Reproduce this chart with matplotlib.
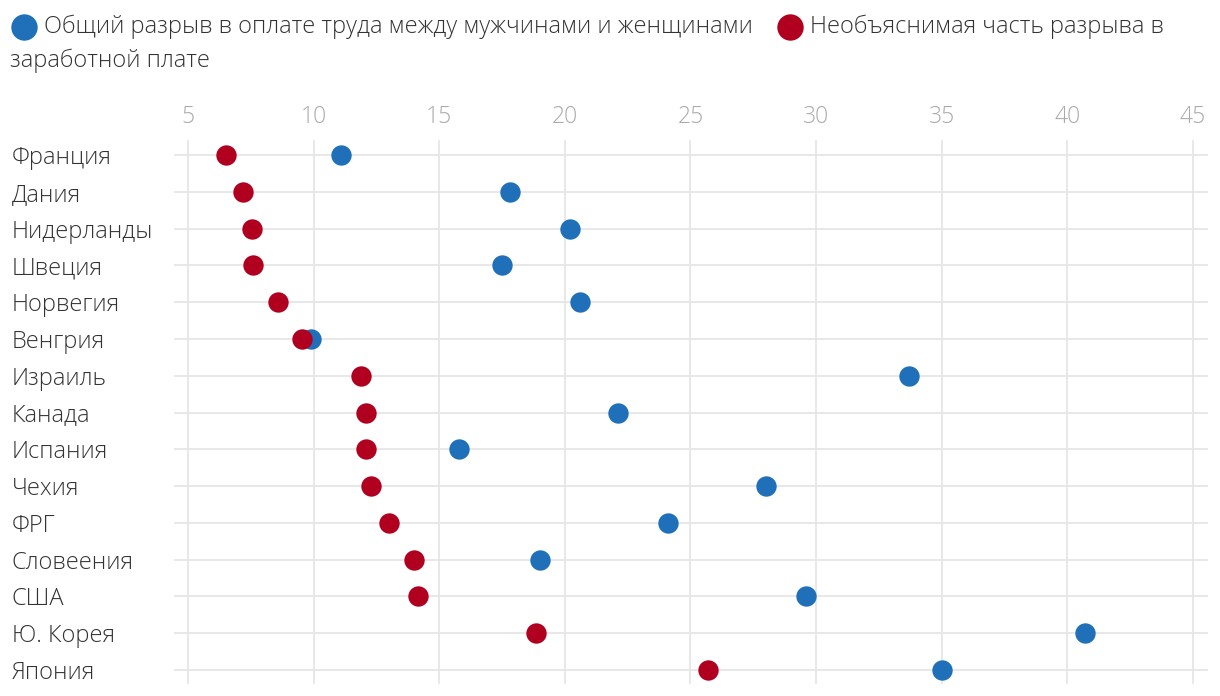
import matplotlib.pyplot as plt
from matplotlib.lines import Line2D

plt.rcParams['font.family'] = ['Open Sans', 'DejaVu Sans']

# данные
countries = ['Франция', 'Дания', 'Нидерланды', 'Швеция', 'Норвегия', 'Венгрия',
             'Израиль', 'Канада', 'Испания', 'Чехия', 'ФРГ', 'Словеения',
             'США', 'Ю. Корея', 'Япония']
total_gap = [11.1, 17.8, 20.2, 17.5, 20.6, 9.9, 33.7, 22.1, 15.8, 28.0,
             24.1, 19.0, 29.6, 40.7, 35.0]
unexplained_gap = [6.5, 7.2, 7.55, 7.6, 8.6, 9.55, 11.9, 12.1, 12.1, 12.3,
                   13.0, 14.0, 14.15, 18.85, 25.7]
x_ticks = [5, 10, 15, 20, 25, 30, 35, 40, 45]

blue = '#1f70b8'
red = '#b1001f'
grid_c = '#e6e6e6'

W, H = 1220, 696
fig = plt.figure(figsize=(W / 100, H / 100), dpi=100)
ax = fig.add_axes([174 / W, 12 / H, (1208 - 174) / W, (684 - 140) / H])

y = list(range(len(countries)))
ax.scatter(total_gap, y, s=215, color=blue, zorder=3, linewidths=0)
ax.scatter(unexplained_gap, y, s=215, color=red, zorder=4, linewidths=0)

ax.set_xlim(4.443, 45.6)
ax.set_ylim(14.38, -0.41)

ax.set_xticks(x_ticks)
ax.xaxis.tick_top()
ax.tick_params(axis='x', length=0, pad=8, labelsize=16.5, labelcolor='#aaaaaa')
ax.set_yticks(y)
ax.set_yticklabels(countries)
ax.tick_params(axis='y', length=0, pad=117, labelsize=17, labelcolor='#333333')
for lbl in ax.get_yticklabels():
    lbl.set_horizontalalignment('left')
for lbl in ax.get_xticklabels() + ax.get_yticklabels():
    lbl.set_fontweight('light')

ax.grid(True, color=grid_c, linewidth=1.3, zorder=0)
ax.set_axisbelow(True)
for sp in ax.spines.values():
    sp.set_visible(False)

# легенда вручную
def fy(py):
    return 1 - py / H

fig.add_artist(Line2D([24 / W], [fy(27)], marker='o', markersize=19, color=blue,
                      markeredgewidth=0, transform=fig.transFigure))
fig.text(44 / W, fy(27), 'Общий разрыв в оплате труда между мужчинами и женщинами',
         fontsize=17, color='#333333', va='center', ha='left', fontweight='light')
fig.add_artist(Line2D([790 / W], [fy(27)], marker='o', markersize=19, color=red,
                      markeredgewidth=0, transform=fig.transFigure))
fig.text(810 / W, fy(27), 'Необъяснимая часть разрыва в',
         fontsize=17, color='#333333', va='center', ha='left', fontweight='light')
fig.text(10 / W, fy(61), 'заработной плате',
         fontsize=17, color='#333333', va='center', ha='left', fontweight='light')

fig.savefig('out.png', dpi=100)
